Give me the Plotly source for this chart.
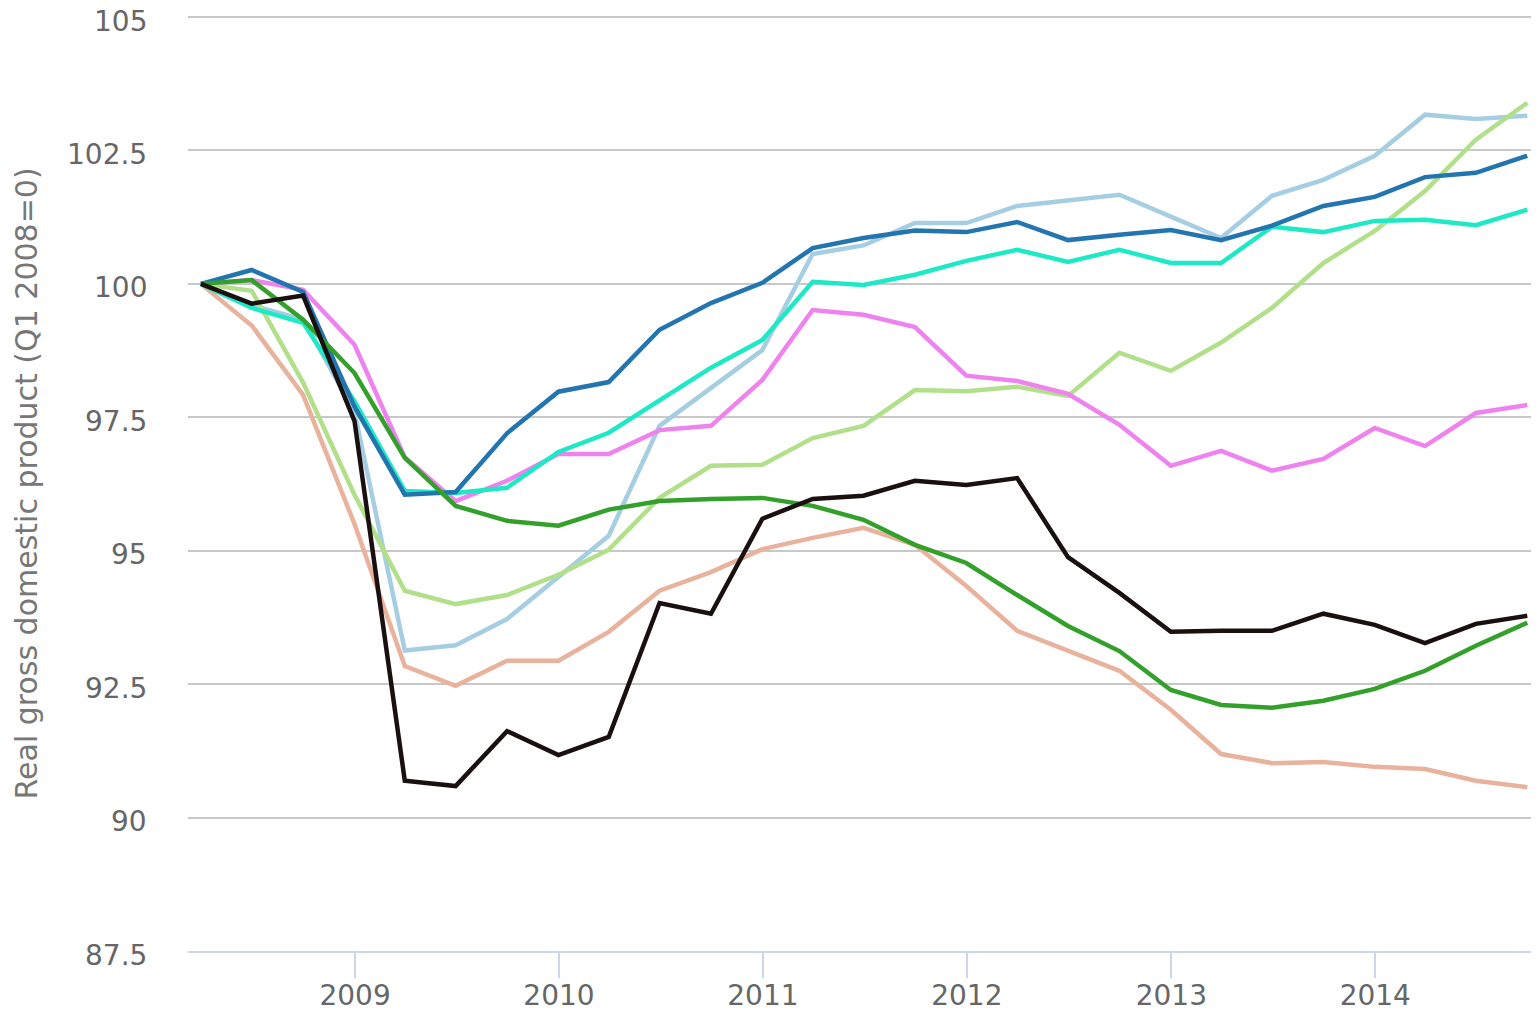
import pandas as pd
import plotly.graph_objects as go

quarters = ["2008Q1", "2008Q2", "2008Q3", "2008Q4",
            "2009Q1", "2009Q2", "2009Q3", "2009Q4",
            "2010Q1", "2010Q2", "2010Q3", "2010Q4",
            "2011Q1", "2011Q2", "2011Q3", "2011Q4",
            "2012Q1", "2012Q2", "2012Q3", "2012Q4",
            "2013Q1", "2013Q2", "2013Q3", "2013Q4",
            "2014Q1", "2014Q2", "2014Q3"]

light_blue = [100, 99.6, 99.33, 97.6, 93.13, 93.23, 93.72, 94.5, 95.28, 97.34, 98.05, 98.76,
              100.56, 100.72, 101.14, 101.14, 101.46, 101.57, 101.67, 101.26, 100.86,
              101.65, 101.95, 102.4, 103.17, 103.09, 103.15]
peach = [100, 99.22, 97.92, 95.5, 92.84, 92.47, 92.94, 92.94, 93.48, 94.25, 94.6, 95.03,
         95.24, 95.43, 95.11, 94.34, 93.5, 93.12, 92.75, 92.02, 91.19,
         91.02, 91.04, 90.95, 90.91, 90.69, 90.57]
light_green = [100, 99.87, 98.15, 96.05, 94.25, 94.0, 94.17, 94.55, 95.02, 95.99, 96.59, 96.61,
               97.11, 97.34, 98.01, 97.99, 98.07, 97.9, 98.71, 98.37, 98.9,
               99.55, 100.39, 100.99, 101.74, 102.7, 103.39]
violet = [100, 100.07, 99.89, 98.86, 96.75, 95.93, 96.31, 96.81, 96.81, 97.26, 97.34, 98.2,
          99.51, 99.42, 99.19, 98.28, 98.18, 97.94, 97.36, 96.59, 96.87,
          96.5, 96.72, 97.3, 96.96, 97.58, 97.73]
turquoise = [100, 99.55, 99.27, 97.8, 96.12, 96.08, 96.18, 96.85, 97.21, 97.81, 98.43, 98.95,
             100.04, 99.98, 100.17, 100.43, 100.64, 100.41, 100.64, 100.39, 100.39,
             101.07, 100.97, 101.18, 101.2, 101.1, 101.39]
dark_blue = [100, 100.26, 99.85, 97.7, 96.05, 96.1, 97.2, 97.98, 98.16, 99.14, 99.64, 100.02,
             100.67, 100.86, 101.0, 100.97, 101.16, 100.82, 100.92, 101.01, 100.82,
             101.09, 101.46, 101.63, 102.0, 102.08, 102.4]
green = [100, 100.07, 99.33, 98.33, 96.74, 95.84, 95.56, 95.47, 95.77, 95.93, 95.97, 95.99,
         95.84, 95.58, 95.11, 94.77, 94.17, 93.59, 93.12, 92.39, 92.11,
         92.06, 92.19, 92.41, 92.75, 93.22, 93.65]
black = [100, 99.63, 99.78, 97.43, 90.69, 90.59, 91.62, 91.17, 91.51, 94.02, 93.82, 95.6,
         95.97, 96.03, 96.31, 96.23, 96.36, 94.88, 94.21, 93.48, 93.5,
         93.5, 93.82, 93.61, 93.27, 93.63, 93.78]

year_ticks = ["2009-01-01", "2010-01-01", "2011-01-01", "2012-01-01", "2013-01-01", "2014-01-01"]
year_labels = ["2009", "2010", "2011", "2012", "2013", "2014"]
y_ticks = [87.5, 90, 92.5, 95, 97.5, 100, 102.5, 105]
y_labels = ["87.5", "90", "92.5", "95", "97.5", "100", "102.5", "105"]

x = [p.end_time.normalize() for p in pd.PeriodIndex(quarters, freq="Q")]

series = [
    (light_blue, "#a6cee3"),
    (peach, "#e8b29c"),
    (light_green, "#b2df8a"),
    (violet, "#ee82ee"),
    (turquoise, "#1de9c6"),
    (dark_blue, "#2375b0"),
    (green, "#33a02c"),
    (black, "#1a1010"),
]

fig = go.Figure()
for vals, col in series:
    fig.add_trace(go.Scatter(x=x, y=vals, mode="lines",
                             line=dict(color=col, width=4.5),
                             showlegend=False, hoverinfo="skip"))

font = "DejaVu Sans, Verdana, sans-serif"

# page body has an 8px default margin, so the figure is sized/offset to compensate
fig.update_layout(
    width=1531, height=1004,
    margin=dict(l=180, r=0, t=8, b=61, autoexpand=False),
    plot_bgcolor="white", paper_bgcolor="white",
    showlegend=False,
)
fig.update_xaxes(
    range=["2008-03-08", "2014-10-21"],
    tickvals=year_ticks, ticktext=year_labels,
    showgrid=False, zeroline=False, automargin=False,
    showline=True, linecolor="#ccd6eb", linewidth=2,
    ticks="outside", ticklen=25, tickcolor="#ccd6eb", tickwidth=2,
    ticklabelstandoff=-7, ticklabeloverflow="allow",
    tickfont=dict(family=font, size=28, color="#666666"),
)
fig.update_yaxes(
    range=[87.5, 105.019],
    tickvals=y_ticks,
    showgrid=True, gridcolor="#c8c8c8", gridwidth=2,
    zeroline=False, showline=False, automargin=False,
    ticks="", showticklabels=False,
)
# y tick labels, placed on the y scale slightly below each grid line
for v, lab in zip(y_ticks, y_labels):
    fig.add_annotation(
        text=lab, xref="paper", yref="y", x=-0.0296, y=v,
        xanchor="right", yanchor="middle", yshift=-4,
        showarrow=False, borderpad=0,
        font=dict(family=font, size=28, color="#666666"),
    )
fig.add_annotation(
    text="Real gross domestic product (Q1 2008=0)",
    xref="paper", yref="paper", x=-0.1192, y=0.5,
    xanchor="center", yanchor="middle", textangle=-90,
    showarrow=False,
    font=dict(family=font, size=30, color="#777777"),
)

fig.write_html("out.html")
